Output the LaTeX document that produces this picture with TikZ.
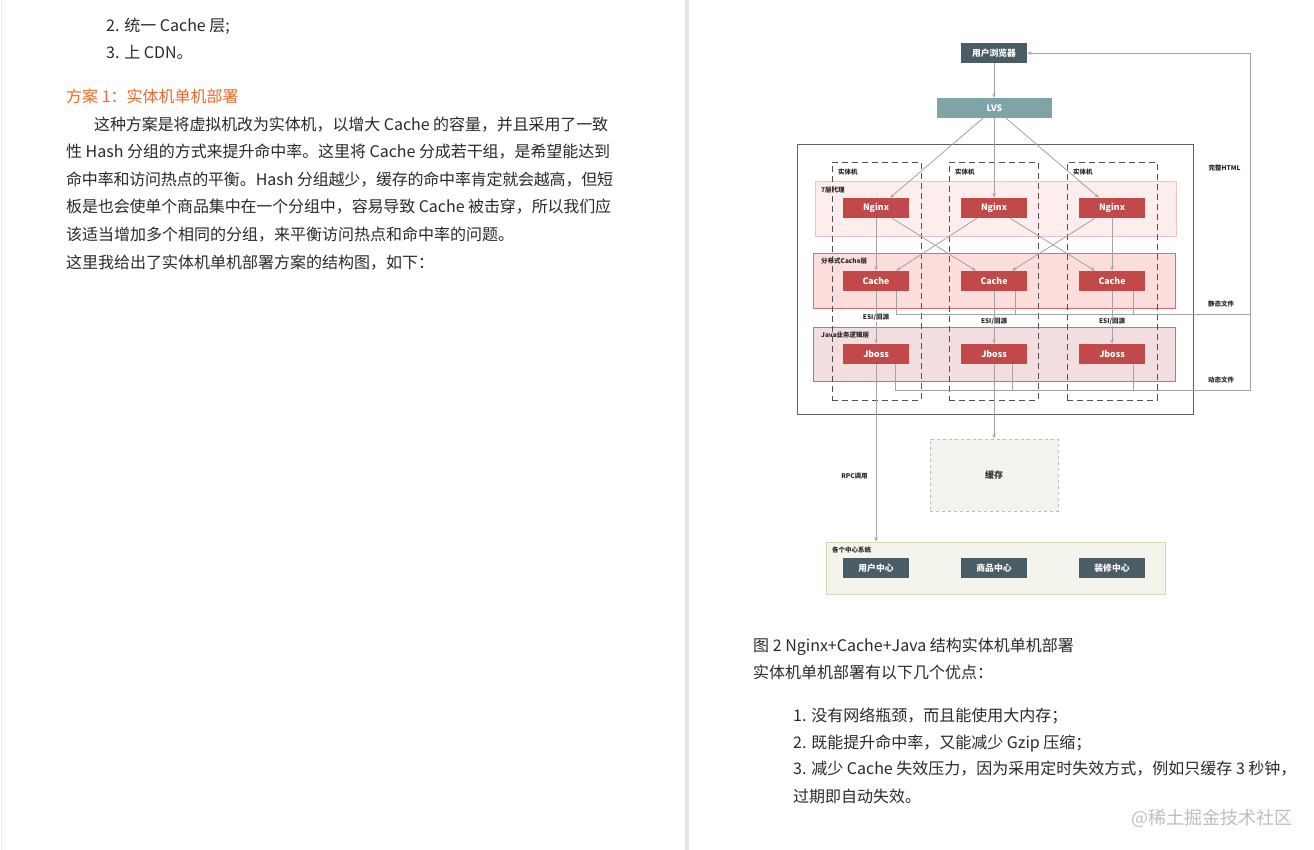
\documentclass[tikz,border=0pt]{standalone}
\usepackage{fontspec}
\setmainfont{Noto Sans CJK SC}
\usetikzlibrary{arrows.meta}
\XeTeXlinebreaklocale "zh"
\XeTeXlinebreakskip=0pt plus 3pt minus 1.5pt
\definecolor{txt}{HTML}{2A2A2A}
\definecolor{orng}{HTML}{F0692C}
\definecolor{slatec}{HTML}{4B5D64}
\definecolor{tealc}{HTML}{7FA4A7}
\definecolor{redbox}{HTML}{C2494A}
\definecolor{bonef}{HTML}{FDEDEC}
\definecolor{boned}{HTML}{F3C2C0}
\definecolor{btwof}{HTML}{FBDDDC}
\definecolor{btwod}{HTML}{E06A68}
\definecolor{bthrf}{HTML}{F2DEDE}
\definecolor{bthrd}{HTML}{D66A69}
\definecolor{lncol}{HTML}{A3A3A3}
\definecolor{outerc}{HTML}{606060}
\definecolor{pmc}{HTML}{505050}
\definecolor{memfill}{HTML}{F3F3EE}
\definecolor{memb}{HTML}{BDBDB0}
\definecolor{sysfill}{HTML}{F4F4EC}
\definecolor{sysb}{HTML}{D6D6B8}
\definecolor{stripc}{HTML}{E3E4EB}
\definecolor{edgec}{HTML}{EDEDED}
\definecolor{wmark}{HTML}{BEBEBE}
\newcommand{\jline}[2]{\parbox[t]{#1}{\parfillskip=0pt\relax #2\par}}
\begin{document}
\begin{tikzpicture}[x=1pt,y=-1pt,
  body/.style={font=\fontsize{16}{18}\selectfont, text=txt, inner sep=0, anchor=base west},
  box/.style={rectangle, inner sep=0, minimum width=66, minimum height=20, text=white, font=\fontsize{8.8}{10}\selectfont\bfseries},
  rbox/.style={box, fill=redbox},
  sbox/.style={box, fill=slatec},
  lbl/.style={font=\fontsize{6.5}{7}\selectfont\bfseries, text=black!85, inner sep=0},
  band/.style={rectangle, inner sep=0, line width=0.9},
  pm/.style={rectangle, inner sep=0, draw=pmc, line width=0.9, dash pattern=on 6pt off 4pt},
  lnk/.style={draw=lncol, line width=0.8},
  arr/.style={lnk, -{Stealth[length=4.5pt,width=3.4pt]}},
  esi/.style={lbl, fill=white, inner sep=1}
]
\path[fill=white] (0,0) rectangle (1314,850);
\useasboundingbox (0,0) rectangle (1314,850);
\fill[stripc] (685,0) rectangle (689,850);
\draw[edgec, line width=1] (1,0) -- (1,850);

% left page text
\node[body] (la) at (106,32) {2. 统一 Cache 层;};
\node[body] (lb) at (106,59) {3. 上 CDN。};
\node[body, text=orng] (ttl) at (66,103) {方案 1：实体机单机部署};
\node[body] (pa) at (94,131) {\jline{514pt}{这种方案是将虚拟机改为实体机，以增大 Cache 的容量，并且采用了一致}};
\node[body] (pb) at (66,158) {\jline{544pt}{性 Hash 分组的方式来提升命中率。这里将 Cache 分成若干组，是希望能达到}};
\node[body] (pc) at (66,186) {\jline{547pt}{命中率和访问热点的平衡。Hash 分组越少，缓存的命中率肯定就会越高，但短}};
\node[body] (pd) at (66,213) {\jline{545pt}{板是也会使单个商品集中在一个分组中，容易导致 Cache 被击穿，所以我们应}};
\node[body] (pe) at (66,241) {该适当增加多个相同的分组，来平衡访问热点和命中率的问题。};
\node[body] (pf) at (66,269) {这里我给出了实体机单机部署方案的结构图，如下：};

% right page text
\node[body] (cap) at (753,651) {图 2 Nginx+Cache+Java 结构实体机单机部署};
\node[body] (adv) at (753,678) {实体机单机部署有以下几个优点：};
\node[body] (ia) at (793,721) {1. 没有网络瓶颈，而且能使用大内存；};
\node[body] (ib) at (793,748) {2. 既能提升命中率，又能减少 Gzip 压缩；};
\node[body] (ic) at (793,774.5) {3. 减少 Cache 失效压力，因为采用定时失效方式，例如只缓存 3 秒钟，};
\node[body] (id) at (793,802) {过期即自动失效。};
\node[body, text=wmark, font=\fontsize{18}{20}\selectfont] (wm) at (1131,824.5) {@稀土掘金技术社区};

% diagram containers
\node[rectangle, inner sep=0, draw=outerc, line width=1, minimum width=396, minimum height=269] (outer) at (995,279.5) {};
\node[band, fill=bonef, draw=boned, minimum width=361, minimum height=55] (bd1) at (995.5,208.5) {};
\node[band, fill=btwof, draw=btwod, minimum width=362, minimum height=55] (bd2) at (994,280.5) {};
\node[band, fill=bthrf, draw=bthrd, minimum width=362, minimum height=54] (bd3) at (994,354) {};
\node[pm, minimum width=89, minimum height=238] (pm1) at (876.5,281) {};
\node[pm, minimum width=89, minimum height=238] (pm2) at (993.5,281) {};
\node[pm, minimum width=90, minimum height=238] (pm3) at (1112,281) {};
\node[lbl, anchor=west] (pl1) at (838,172) {实体机};
\node[lbl, anchor=west] (pl2) at (955,172) {实体机};
\node[lbl, anchor=west] (pl3) at (1073,172) {实体机};
\node[lbl, anchor=west] (bl1) at (821,190) {7层代理};
\node[lbl, anchor=west] (bl2) at (821,261) {分布式Cache层};
\node[lbl, anchor=west] (bl3) at (821,335) {Java业务逻辑层};

% boxes
\node[sbox] (br) at (994,53) {用户浏览器};
\node[box, fill=tealc, minimum width=115] (lvs) at (994.5,108) {LVS};
\node[rbox] (n1) at (876,208) {Nginx};
\node[rbox] (n2) at (994,208) {Nginx};
\node[rbox] (n3) at (1112,208) {Nginx};
\node[rbox] (c1) at (876,281) {Cache};
\node[rbox] (c2) at (994,281) {Cache};
\node[rbox] (c3) at (1112,281) {Cache};
\node[rbox] (j1) at (876,354) {Jboss};
\node[rbox] (j2) at (994,354) {Jboss};
\node[rbox] (j3) at (1112,354) {Jboss};
\node[rectangle, inner sep=0, draw=memb, dashed, line width=0.9, fill=memfill, minimum width=128, minimum height=72, font=\fontsize{9}{10}\selectfont\bfseries, text=black!80] (mem) at (994,475) {缓存};
\node[rectangle, inner sep=0, draw=sysb, fill=sysfill, line width=1, minimum width=339, minimum height=52] (sys) at (995.5,568) {};
\node[lbl, anchor=west] (sysl) at (832,550) {各个中心系统};
\node[sbox] (u1) at (876,568) {用户中心};
\node[sbox] (u2) at (994,568) {商品中心};
\node[sbox] (u3) at (1112,568) {装修中心};

% side labels
\node[lbl] (h1) at (1224.5,168) {完整HTML};
\node[lbl] (h2) at (1221,304) {静态文件};
\node[lbl] (h3) at (1221,380) {动态文件};
\node[lbl] (rpc) at (854.5,476) {RPC调用};

\coordinate (sl) at (1250,314);
\coordinate (dl) at (1250,390);
\coordinate (tr) at (1250,53);

% connectors
\draw[arr] (br.south) -- (br.south |- lvs.north);
\draw[arr] ([xshift=-11.5]lvs.south) -- ([xshift=14]n1.north);
\draw[arr] (n2.north |- lvs.south) -- (n2.north);
\draw[arr] ([xshift=11.5]lvs.south) -- ([xshift=-13]n3.north);
\draw[arr] (n1.south) -- (c1.north);
\draw[arr] ([xshift=16]n1.south) -- ([xshift=-18]c2.north);
\draw[arr] ([xshift=-17]n2.south) -- ([xshift=20]c1.north);
\draw[arr] ([xshift=16]n2.south) -- ([xshift=-17]c3.north);
\draw[arr] ([xshift=-17]n3.south) -- ([xshift=18]c2.north);
\draw[arr] (n3.south) -- (c3.north);
\draw[arr] (c1.south) -- (j1.north) node[esi, pos=0.5] {ESI/回源};
\draw[arr] (c2.south) -- (j2.north) node[esi, pos=0.57] {ESI/回源};
\draw[arr] (c3.south) -- (j3.north) node[esi, pos=0.57] {ESI/回源};
\draw[arr] ([xshift=20]c1.south) |- (sl) -- (tr) -- (br.east);
\draw[lnk] ([xshift=21]c2.south) -- ([xshift=21]c2.south |- sl);
\draw[lnk] ([xshift=21]c3.south) -- ([xshift=21]c3.south |- sl);
\draw[lnk] ([xshift=19]j1.south) |- (dl) -- (sl);
\draw[lnk] ([xshift=18]j2.south) -- ([xshift=18]j2.south |- dl);
\draw[lnk] ([xshift=21]j3.south) -- ([xshift=21]j3.south |- dl);
\draw[arr] (j1.south) -- (j1.south |- sys.north);
\draw[arr] (j2.south) -- (mem.north);
\end{tikzpicture}
\end{document}
